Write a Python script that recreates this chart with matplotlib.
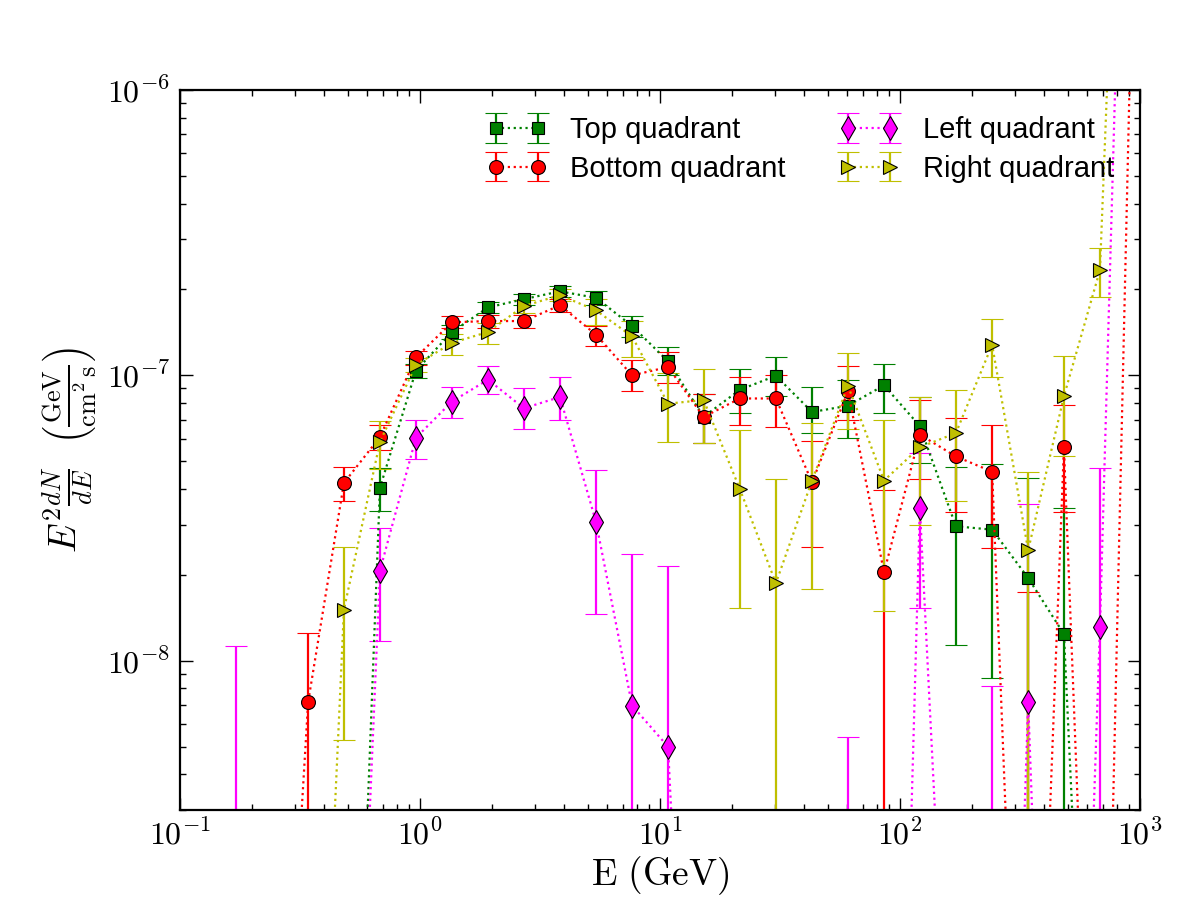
import numpy as np
import matplotlib
matplotlib.use("Agg")
import matplotlib.pyplot as plt
from matplotlib.ticker import FuncFormatter, LogLocator

# ==========================================
# 1) data (read off the reference picture)
# ==========================================
energy = [0.171, 0.242, 0.342, 0.482, 0.681, 0.962, 1.36, 1.92, 2.71, 3.83,
          5.41, 7.65, 10.8, 15.2, 21.5, 30.4, 43.0, 60.7, 85.8, 121.0,
          171.0, 242.0, 342.0, 482.0, 681.0, 962.0]

# top quadrant: value / lower bound / upper bound
top_val = [1e-11, 1e-11, 1e-11, 2e-11, 4.04e-8, 1.04e-7, 1.42e-7, 1.73e-7, 1.85e-7, 1.97e-7,
           1.87e-7, 1.49e-7, 1.12e-7, 7.16e-8, 8.9e-8, 9.97e-8, 7.44e-8, 7.83e-8, 9.23e-8, 6.64e-8,
           2.96e-8, 2.88e-8, 1.95e-8, 1.24e-8, 2.5e-11, 1e-11]
top_lo = [1e-11, 1e-11, 1e-11, 2e-11, 3.35e-8, 9.8e-8, 1.34e-7, 1.65e-7, 1.77e-7, 1.88e-7,
          1.77e-7, 1.36e-7, 1.0e-7, 5.78e-8, 7.36e-8, 8.5e-8, 6.3e-8, 6.03e-8, 7.36e-8, 4.95e-8,
          1.14e-8, 8.7e-9, 0, 0, 2.5e-11, 1e-11]
top_hi = [1e-11, 1e-11, 1e-11, 2e-11, 4.73e-8, 1.10e-7, 1.50e-7, 1.81e-7, 1.93e-7, 2.05e-7,
          1.97e-7, 1.62e-7, 1.26e-7, 8.6e-8, 1.05e-7, 1.16e-7, 9.1e-8, 9.66e-8, 1.10e-7, 8.4e-8,
          4.76e-8, 4.9e-8, 4.37e-8, 3.44e-8, 2.5e-11, 1e-11]

# bottom quadrant
bot_val = [1e-11, 5.6e-11, 7.18e-9, 4.2e-8, 6.08e-8, 1.156e-7, 1.535e-7, 1.55e-7, 1.55e-7, 1.76e-7,
           1.39e-7, 1.0e-7, 1.07e-7, 7.15e-8, 8.3e-8, 8.3e-8, 4.22e-8, 8.8e-8, 2.04e-8, 6.2e-8,
           5.2e-8, 4.6e-8, 3e-11, 5.6e-8, 3e-11, 1e-5]
bot_lo = [1e-11, 5.6e-11, 0, 3.64e-8, 5.47e-8, 1.09e-7, 1.46e-7, 1.47e-7, 1.47e-7, 1.67e-7,
          1.27e-7, 8.8e-8, 9.4e-8, 5.78e-8, 6.7e-8, 6.6e-8, 2.5e-8, 6.97e-8, 0, 4.32e-8,
          3.31e-8, 2.48e-8, 0, 3.31e-8, 3e-11, 1e-5]
bot_hi = [1e-11, 5.6e-11, 1.25e-8, 4.78e-8, 6.68e-8, 1.22e-7, 1.61e-7, 1.63e-7, 1.63e-7, 1.85e-7,
          1.49e-7, 1.13e-7, 1.21e-7, 8.6e-8, 9.85e-8, 1.0e-7, 5.89e-8, 1.08e-7, 3.96e-8, 8.2e-8,
          7.1e-8, 6.7e-8, 1.74e-8, 7.9e-8, 3e-11, 1e-5]

# left quadrant
left_val = [1e-11, 1e-11, 1e-11, 2.2e-11, 2.07e-8, 6.05e-8, 8.1e-8, 9.66e-8, 7.67e-8, 8.4e-8,
            3.07e-8, 6.97e-9, 5.0e-9, 1.5e-11, 1e-11, 1e-11, 1e-11, 1e-11, 1e-12, 3.43e-8,
            1e-10, 1e-12, 7.18e-9, 2.5e-12, 1.31e-8, 4e-4]
left_lo = [0, 1e-11, 1e-11, 2.2e-11, 1.17e-8, 5.1e-8, 7.1e-8, 8.6e-8, 6.5e-8, 7.0e-8,
           1.46e-8, 0, 0, 1.5e-11, 1e-11, 1e-11, 1e-11, 0, 1e-12, 1.53e-8,
           1e-10, 0, 0, 2.5e-12, 0, 4e-4]
left_hi = [1.13e-8, 1e-11, 1e-11, 2.2e-11, 2.92e-8, 7.0e-8, 9.1e-8, 1.08e-7, 9.0e-8, 9.87e-8,
           4.66e-8, 2.36e-8, 2.15e-8, 1.5e-11, 1e-11, 1e-11, 1e-11, 5.42e-9, 1e-12, 5.36e-8,
           1e-10, 8.15e-9, 3.54e-8, 2.5e-12, 4.74e-8, 4e-4]

# right quadrant
right_val = [1e-11, 1e-11, 2.6e-11, 1.51e-8, 5.85e-8, 1.089e-7, 1.30e-7, 1.42e-7, 1.75e-7, 1.91e-7,
             1.69e-7, 1.37e-7, 7.96e-8, 8.2e-8, 4.0e-8, 1.87e-8, 4.28e-8, 9.2e-8, 4.28e-8, 5.6e-8,
             6.28e-8, 1.28e-7, 2.44e-8, 8.45e-8, 2.34e-7, 4e-4]
right_lo = [1e-11, 1e-11, 2.6e-11, 5.27e-9, 4.70e-8, 1.03e-7, 1.18e-7, 1.29e-7, 1.66e-7, 1.82e-7,
            1.5e-7, 1.16e-7, 5.82e-8, 5.78e-8, 1.53e-8, 0, 1.78e-8, 6.5e-8, 1.49e-8, 2.98e-8,
            3.64e-8, 9.87e-8, 0, 5.2e-8, 1.88e-7, 4e-4]
right_hi = [1e-11, 1e-11, 2.6e-11, 2.51e-8, 6.92e-8, 1.15e-7, 1.40e-7, 1.52e-7, 1.84e-7, 2.0e-7,
            1.85e-7, 1.55e-7, 1.02e-7, 1.05e-7, 6.45e-8, 4.32e-8, 6.8e-8, 1.20e-7, 7.0e-8, 8.4e-8,
            8.9e-8, 1.57e-7, 4.6e-8, 1.17e-7, 2.79e-7, 4e-4]

series = [
    ("Top quadrant", top_val, top_lo, top_hi, "s", "g", 9),
    ("Bottom quadrant", bot_val, bot_lo, bot_hi, "o", "r", 10),
    ("Left quadrant", left_val, left_lo, left_hi, "d", "magenta", 12),
    ("Right quadrant", right_val, right_lo, right_hi, ">", "y", 10),
]

# ==========================================
# 2) style
# ==========================================
plt.rcParams["mathtext.fontset"] = "cm"
plt.rcParams["xtick.direction"] = "in"
plt.rcParams["ytick.direction"] = "in"
plt.rcParams["xtick.top"] = True
plt.rcParams["ytick.right"] = True
plt.rcParams["xtick.major.size"] = 9
plt.rcParams["ytick.major.size"] = 9
plt.rcParams["xtick.minor.size"] = 4.5
plt.rcParams["ytick.minor.size"] = 4.5
plt.rcParams["xtick.major.pad"] = 7
plt.rcParams["ytick.major.pad"] = 7

fig = plt.figure(figsize=(12, 9), dpi=100)
ax = fig.add_axes([0.15, 0.1, 0.8, 0.8])

for label, val, lo, hi, mk, col, ms in series:
    val = np.array(val)
    yerr = [val - np.array(lo), np.array(hi) - val]
    ax.errorbar(energy, val, yerr=yerr, fmt=mk, linestyle=":", linewidth=1.6,
                color=col, ecolor=col, elinewidth=1.6, capsize=8, capthick=1.3,
                markersize=ms, markerfacecolor=col, markeredgecolor="k",
                markeredgewidth=0.8, label=label)

ax.set_xscale("log")
ax.set_yscale("log")
ax.set_xlim(0.1, 1000)
ax.set_ylim(3e-9, 1e-6)

fmt = FuncFormatter(lambda v, p: r"$10^{%d}$" % int(round(np.log10(v))))
ax.xaxis.set_major_locator(LogLocator(base=10))
ax.yaxis.set_major_locator(LogLocator(base=10))
ax.xaxis.set_major_formatter(fmt)
ax.yaxis.set_major_formatter(fmt)
ax.tick_params(axis="both", which="major", labelsize=23, width=1)
ax.tick_params(axis="both", which="minor", width=1)
for sp in ax.spines.values():
    sp.set_linewidth(1.6)

ax.set_xlabel(r"$\mathrm{E\ (GeV)}$", fontsize=27, labelpad=2)
ax.set_ylabel(r"$E^2\frac{dN}{dE}\ \ \left(\frac{\mathrm{GeV}}{\mathrm{cm}^2\,\mathrm{s}}\right)$",
              fontsize=27, labelpad=6)

ax.legend(loc="upper right", ncol=2, numpoints=2, frameon=False,
          prop={"family": "Liberation Sans", "size": 21},
          handlelength=2.05, handletextpad=0.8, columnspacing=1.85,
          labelspacing=0.36, borderaxespad=0.5)

plt.savefig("out.png", dpi=100)
